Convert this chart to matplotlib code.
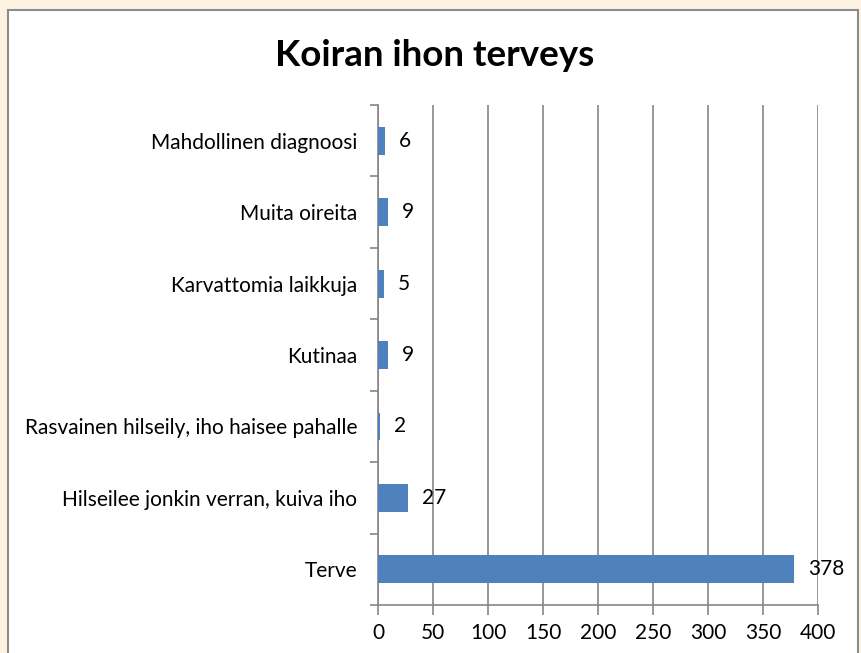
import matplotlib
matplotlib.use("Agg")
import matplotlib.pyplot as plt
from matplotlib.patches import Rectangle

categories = ["Terve",
              "Hilseilee jonkin verran, kuiva iho",
              "Rasvainen hilseily, iho haisee pahalle",
              "Kutinaa",
              "Karvattomia laikkuja",
              "Muita oireita",
              "Mahdollinen diagnoosi"]
counts = [378, 27, 2, 9, 5, 9, 6]
xticks = [0, 50, 100, 150, 200, 250, 300, 350, 400]

plt.rcParams["font.family"] = ["Lato", "DejaVu Sans"]

fig = plt.figure(figsize=(8.61, 6.53), dpi=100)
fig.patch.set_facecolor("#FDF3E2")
# white chart box with grey border
fig.patches.append(Rectangle((8 / 861, -0.05), 850 / 861, 1 - 10 / 653 + 0.05,
                             transform=fig.transFigure, facecolor="white",
                             edgecolor="#8C8C8C", linewidth=1.5, zorder=-1))

ax = fig.add_axes([378 / 861, 1 - 605 / 653, 440 / 861, 500 / 653])
ax.set_zorder(1)
ax.set_facecolor("none")
pos = list(range(len(categories)))
ax.barh(pos, counts, height=0.39, color="#4F81BD", zorder=3)
for p, v in zip(pos, counts):
    ax.annotate(str(v), (v, p), xytext=(10, 0), textcoords="offset points",
                va="center", ha="left", fontsize=15, zorder=4)

ax.set_xlim(0, 400)
ax.set_ylim(-0.5, len(categories) - 0.5)
ax.set_xticks(xticks)
ax.set_xticklabels([str(t) for t in xticks], fontsize=15)
ax.set_yticks(pos)
ax.set_yticklabels(categories, fontsize=15)
ax.set_yticks([p - 0.5 for p in pos] + [len(pos) - 0.5], minor=True)
ax.tick_params(axis="y", which="major", length=0, pad=15)
ax.tick_params(axis="y", which="minor", length=6, color="#868686", width=1.2)
ax.tick_params(axis="x", length=7, color="#868686", width=1.2, pad=6)
ax.xaxis.grid(True, color="#868686", linewidth=1.2, zorder=0)
for side in ["top", "right"]:
    ax.spines[side].set_visible(False)
for side in ["left", "bottom"]:
    ax.spines[side].set_color("#868686")
    ax.spines[side].set_linewidth(1.2)

fig.text(435 / 861, 1 - 55 / 653, "Koiran ihon terveys", ha="center", va="center",
         fontsize=26.5, fontweight="bold")

fig.savefig("out.png", dpi=100, facecolor=fig.get_facecolor())
